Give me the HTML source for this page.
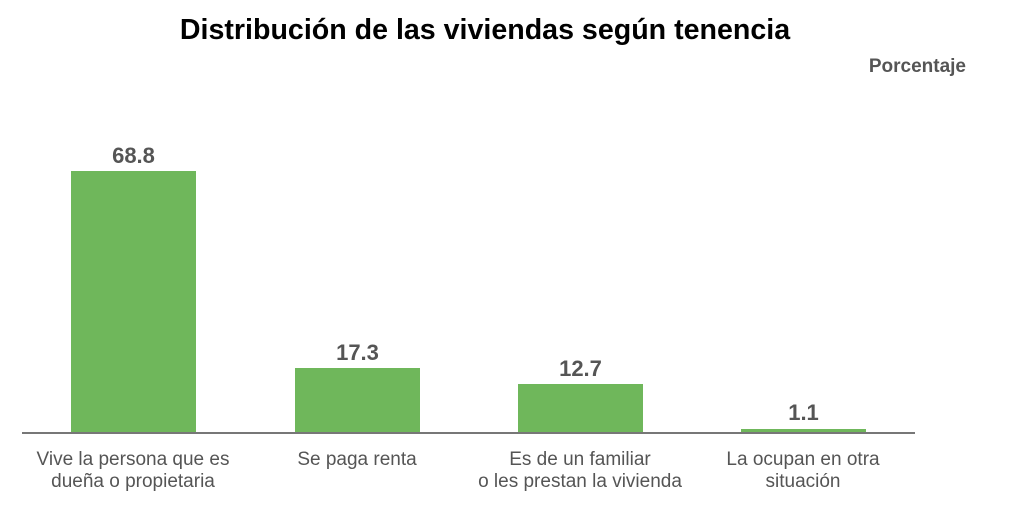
<!DOCTYPE html>
<html><head><meta charset="utf-8"><style>
body{margin:0;width:1024px;height:514px;background:#fff;font-family:"Liberation Sans",Arial,sans-serif;position:relative;overflow:hidden}
.t{position:absolute;left:0;width:970px;top:14px;text-align:center;font-size:28.6px;font-weight:bold;color:#000}
.u{position:absolute;right:58px;top:56px;font-size:19px;font-weight:bold;color:#555}
.b{position:absolute;background:#6fb75b;width:125px}
.v{position:absolute;width:125px;text-align:center;font-size:22px;font-weight:bold;color:#555}
.l{position:absolute;width:260px;text-align:center;font-size:19px;color:#555;line-height:22px;top:449px}
.ax{position:absolute;left:22px;width:893px;top:432px;height:2px;background:#777}
</style></head><body>
<div class="t">Distribución de las viviendas según tenencia</div>
<div class="u">Porcentaje</div>
<div class="v" style="left:71px;top:143px">68.8</div>
<div class="b" style="left:71px;top:171px;height:262px"></div>
<div class="v" style="left:295px;top:340px">17.3</div>
<div class="b" style="left:295px;top:368px;height:65px"></div>
<div class="v" style="left:518px;top:356px">12.7</div>
<div class="b" style="left:518px;top:384px;height:49px"></div>
<div class="v" style="left:741px;top:400px">1.1</div>
<div class="b" style="left:741px;top:429px;height:4px"></div>
<div class="ax"></div>
<div class="l" style="left:3px">Vive la persona que es<br>dueña o propietaria</div>
<div class="l" style="left:227px">Se paga renta</div>
<div class="l" style="left:450px">Es de un familiar<br>o les prestan la vivienda</div>
<div class="l" style="left:673px">La ocupan en otra<br>situación</div>
</body></html>
